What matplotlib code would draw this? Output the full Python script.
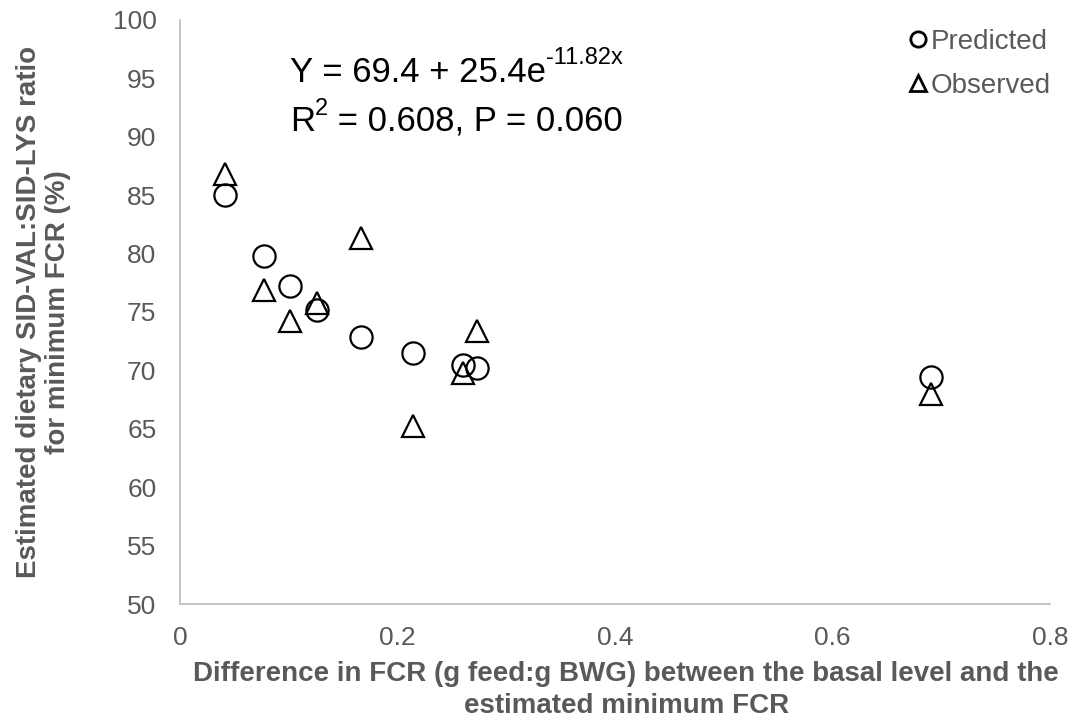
import matplotlib
matplotlib.use('Agg')
import matplotlib.pyplot as plt
from matplotlib.lines import Line2D

plt.rcParams['font.family'] = ['Liberation Sans', 'DejaVu Sans']

# Difference in FCR (x) for each treatment
fcr_diff = [0.041, 0.077, 0.101, 0.126, 0.166, 0.214, 0.260, 0.273, 0.691]
# Estimated SID-VAL:SID-LYS ratio (%)
predicted = [85.0, 79.8, 77.2, 75.2, 72.9, 71.45, 70.5, 70.2, 69.4]
observed = [86.8, 76.9, 74.2, 75.8, 81.3, 65.2, 69.8, 73.4, 68.0]

grey = '#595959'
axis_grey = '#bfbfbf'

fig = plt.figure(figsize=(10.81, 7.26), dpi=100)
ax = fig.add_axes([0.1665, 0.168, 0.8048, 0.8045])

ax.plot(fcr_diff, predicted, linestyle='none', marker='o', markersize=16,
        markerfacecolor='none', markeredgecolor='black', markeredgewidth=1.6, zorder=3)
ax.plot(fcr_diff, observed, linestyle='none', marker='^', markersize=16,
        markerfacecolor='none', markeredgecolor='black', markeredgewidth=1.6, zorder=3)

ax.set_xlim(0, 0.8)
ax.set_ylim(50, 100)
ax.set_xticks([0, 0.2, 0.4, 0.6, 0.8])
ax.set_xticklabels(['0', '0.2', '0.4', '0.6', '0.8'])
ax.set_yticks(range(50, 101, 5))

for s in ['top', 'right']:
    ax.spines[s].set_visible(False)
for s in ['left', 'bottom']:
    ax.spines[s].set_color(axis_grey)
    ax.spines[s].set_linewidth(1.3)

ax.tick_params(axis='both', length=0, labelsize=19, labelcolor=grey)
ax.tick_params(axis='x', pad=16)
ax.tick_params(axis='y', pad=17)

ax.set_xlabel('Difference in FCR (g feed:g BWG) between the basal level and the\nestimated minimum FCR',
              fontsize=20, fontweight='bold', color=grey, linespacing=1.3)
ax.xaxis.set_label_coords(0.513, -0.097, transform=ax.transAxes)
ax.xaxis.label.set_va('top')
ax.set_ylabel('Estimated dietary SID-VAL:SID-LYS ratio\nfor minimum FCR (%)',
              fontsize=20, fontweight='bold', color=grey, linespacing=1.15)
ax.yaxis.set_label_coords(-0.189, 0.5, transform=ax.transAxes)
ax.yaxis.label.set_va('top')

# equation text with superscripts
eq1 = ax.text(0.101, 94.7, 'Y = 69.4 + 25.4e', fontsize=25, color='black',
              va='baseline', ha='left')
ax.annotate('-11.82x', xy=(1.0, 1.26), xycoords=eq1, fontsize=17, color='black',
            ha='left', va='top')
eq2 = ax.text(0.101, 90.5, 'R', fontsize=25, color='black', va='baseline', ha='left')
sup2 = ax.annotate('2', xy=(1.0, 1.2), xycoords=eq2, fontsize=17, color='black',
                   ha='left', va='top')
ax.annotate(' = 0.608, P = 0.060', xy=(1.0, 0.0), xycoords=(sup2, eq2), fontsize=25,
            color='black', ha='left', va='bottom')

handles = [
    Line2D([], [], linestyle='none', marker='o', markersize=11, markerfacecolor='none',
           markeredgecolor='black', markeredgewidth=2.0, label='Predicted'),
    Line2D([], [], linestyle='none', marker='^', markersize=11, markerfacecolor='none',
           markeredgecolor='black', markeredgewidth=2.0, label='Observed'),
]
leg = ax.legend(handles=handles, loc='upper right', bbox_to_anchor=(1.03, 1.028), frameon=False,
                fontsize=20, handlelength=0.6, handletextpad=0.15, labelspacing=0.66)
for t in leg.get_texts():
    t.set_color(grey)

fig.savefig('out.png', dpi=100)
